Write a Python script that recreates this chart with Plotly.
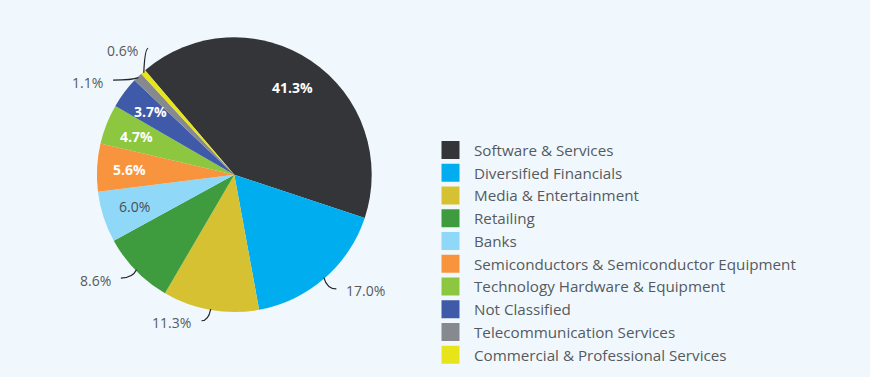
import math
import plotly.graph_objects as go

# ---- data ----
categories = [
    "Software & Services", "Diversified Financials", "Media & Entertainment",
    "Retailing", "Banks", "Semiconductors & Semiconductor Equipment",
    "Technology Hardware & Equipment", "Not Classified",
    "Telecommunication Services", "Commercial & Professional Services",
]
shares = [41.3, 17.0, 11.3, 8.6, 6.0, 5.6, 4.7, 3.7, 1.1, 0.6]
colors = ["#333539", "#00aeef", "#d6c133", "#3e9b3e", "#8fd8f8",
          "#f7943d", "#8dc63f", "#3f5aa8", "#868a8f", "#e8e41a"]
label_mode = ["in", "out", "out", "out", "in_dark", "in", "in", "in", "out", "out"]

# ---- layout constants (pixels) ----
W, H = 870, 377
CX, CY, R = 234.3, 174.7, 137.4
ROT = -40.5
BG = "#f1f8fd"
FONT = "Open Sans"

def px(x):
    return x / W

def py(y):
    return 1 - y / H

fig = go.Figure()
fig.add_trace(go.Pie(
    labels=categories, values=shares, sort=False, direction="clockwise",
    rotation=ROT, marker=dict(colors=colors, line=dict(width=0)),
    textinfo="none", showlegend=False, hoverinfo="label+percent",
    domain=dict(x=[px(CX - R), px(CX + R)], y=[py(CY + R), py(CY - R)]),
))

# legend entries
for name, c in zip(categories, colors):
    fig.add_trace(go.Scatter(
        x=[None], y=[None], mode="markers", name=name,
        marker=dict(symbol="square", size=16, color=c, line=dict(color=c, width=2)),
        hoverinfo="skip",
    ))

# ---- labels computed from slice angles ----
nudges = {1: (0, -3), 2: (-6, -7), 3: (-2, -5), 8: (-12, 16), 9: (17, -10)}
total = sum(shares)
cum = 0.0
annotations, shapes = [], []
for i, v in enumerate(shares):
    mid = math.radians(ROT + (cum + v / 2) / total * 360)
    cum += v
    sx, sy = math.sin(mid), -math.cos(mid)
    txt = f"{v:.1f}%"
    if label_mode[i].startswith("in"):
        rr = R * 0.765
        dark = label_mode[i] == "in_dark"
        annotations.append(dict(
            x=px(CX + rr * sx), y=py(CY + rr * sy), xref="paper", yref="paper",
            text=txt if dark else f"<b>{txt}</b>", showarrow=False,
            font=dict(family=FONT, size=14, color="#4a4f55" if dark else "#ffffff"),
            xanchor="center", yanchor="middle",
        ))
    else:
        x0, y0 = CX + (R - 1) * sx, CY + (R - 1) * sy
        ndx, ndy = nudges.get(i, (0, 0))
        x1, y1 = CX + (R + 18) * sx + ndx, CY + (R + 18) * sy + ndy
        qx, qy = x0 + 0.25 * (x1 - x0), y1
        shapes.append(dict(
            type="path", xref="paper", yref="paper",
            path=f"M {px(x0)},{py(y0)} Q {px(qx)},{py(qy)} {px(x1)},{py(y1)}",
            line=dict(color="#222222", width=1.2),
        ))
        right = sx > 0
        annotations.append(dict(
            x=px(x1 + (8 if right else -8)), y=py(y1 + 2), xref="paper", yref="paper",
            text=txt, showarrow=False,
            font=dict(family=FONT, size=14, color="#555a60"),
            xanchor="left" if right else "right", yanchor="middle",
        ))

fig.update_layout(
    width=W, height=H, margin=dict(l=0, r=0, t=0, b=0),
    paper_bgcolor=BG, plot_bgcolor=BG,
    xaxis=dict(visible=False), yaxis=dict(visible=False),
    annotations=annotations, shapes=shapes,
    legend=dict(
        x=px(427), y=py(133.5), xanchor="left", yanchor="top",
        font=dict(family=FONT, size=15.2, color="#555a60"),
        bgcolor="rgba(0,0,0,0)", itemwidth=37, itemclick=False,
    ),
    showlegend=True,
)

fig.write_html(
    "out.html",
    config={"displayModeBar": False},
    post_script="document.body.style.margin='0';document.body.style.padding='0';"
                "document.body.style.background='" + BG + "';",
)
